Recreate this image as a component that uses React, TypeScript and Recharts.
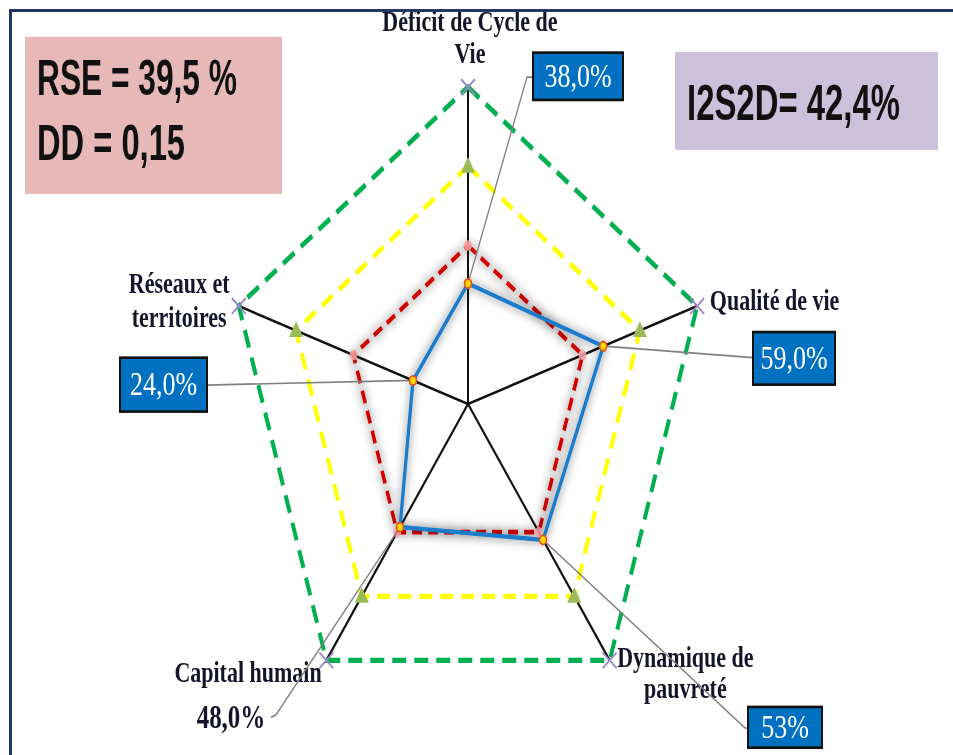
import React from "react";
import { RadarChart, Radar, PolarGrid, PolarAngleAxis, PolarRadiusAxis } from "recharts";

// the source picture is stretched vertically, so the whole drawing is scaled in y
const K = 1.315;
const W = 953;
const H = 755;
const INNER_H = Math.round(H / K);

const AXES = ["Déficit de Cycle de Vie", "Qualité de vie", "Dynamique de pauvreté", "Capital humain", "Réseaux et territoires"];
const AXIS_LINES = [["Déficit de Cycle de", "Vie"], ["Qualité de vie"], ["Dynamique de", "pauvreté"], ["Capital humain"], ["Réseaux et", "territoires"]];
const GREEN = [100, 100, 100, 100, 100];
const YELLOW = [75, 75, 75, 75, 75];
const RED = [50, 50, 50, 50, 50];
const BLUE = [38, 59, 53, 48, 24];
const BLUE_LABELS = ["38,0%", "59,0%", "53%", "48,0%", "24,0%"];

const data = AXES.map((axis, i) => ({
  axis,
  green: GREEN[i],
  yellow: YELLOW[i],
  red: RED[i],
  blue: BLUE[i],
}));

// label placement around the outer vertices
const TICK_POS = [
  { dx: 2, dy: [-34.6, -10.3], anchor: "middle" },
  { dx: 5, dy: [5.5], anchor: "start" },
  { dx: 71, dy: [-1.5, 22], anchor: "middle" },
  { dx: 0, dy: [10], anchor: "end" },
  { dx: -52, dy: [-7.4, 18.5], anchor: "middle" },
];

// callouts for the blue series (box or plain text, plus leader elbow)
const CALLOUTS: any[] = [
  { box: { x: 533, y: 40, w: 90, h: 36 }, path: [[527, 58.6], [533, 58.6]] },
  { box: { x: 753, y: 252.5, w: 82, h: 40 }, path: [[753, 272]] },
  { box: { x: 748, y: 537.6, w: 74, h: 31 }, path: [[745, 553.6], [748, 553.6]] },
  { text: { x: 231, y: 553.6 }, path: [[276, 543.5], [271, 545.5]] },
  { box: { x: 120, y: 272, w: 87, h: 41 }, path: [[207, 292.8]] },
];

const SERIF = "'Liberation Serif', 'Times New Roman', serif";
const SANS = "'Liberation Sans', Arial, sans-serif";

function AxisTick(props: any) {
  const { x, y } = props;
  const i = props.payload?.index ?? props.index;
  const pos = TICK_POS[i];
  return (
    <text textAnchor={pos.anchor} fontFamily={SERIF} fontWeight="bold" fontSize={22} fill="#14142a">
      {AXIS_LINES[i].map((line, k) => (
        <tspan key={k} x={x + pos.dx} y={y + pos.dy[k]}>
          {line}
        </tspan>
      ))}
    </text>
  );
}

function GreenDot(props: any) {
  const { cx, cy } = props;
  return (
    <g>
      <line x1={cx - 7} y1={cy - 6} x2={cx + 7} y2={cy + 6} stroke="#9a86c8" strokeWidth={1.6} />
      <line x1={cx - 7} y1={cy + 6} x2={cx + 7} y2={cy - 6} stroke="#9a86c8" strokeWidth={1.6} />
    </g>
  );
}

function YellowDot(props: any) {
  const { cx, cy } = props;
  return <polygon points={`${cx},${cy - 7} ${cx + 7},${cy + 5} ${cx - 7},${cy + 5}`} fill="#9bbb59" />;
}

function RedDot(props: any) {
  const { cx, cy } = props;
  return <circle cx={cx} cy={cy} r={4} fill="#f3a3a3" opacity={0.85} />;
}

function BlueDot(props: any) {
  const { cx, cy, index } = props;
  const c = CALLOUTS[index];
  const pts = [[cx, cy], ...c.path].map((p: number[]) => p.join(",")).join(" ");
  return (
    <g>
      <polyline points={pts} fill="none" stroke="#808080" strokeWidth={1.3} />
      {c.box && (
        <g>
          <rect x={c.box.x} y={c.box.y} width={c.box.w} height={c.box.h} fill="#0070c0" stroke="#111" strokeWidth={2} />
          <text
            x={c.box.x + c.box.w / 2}
            y={c.box.y + c.box.h / 2 + 8}
            textAnchor="middle"
            fontFamily={SERIF}
            fontSize={26}
            fill="#fff"
          >
            {BLUE_LABELS[index]}
          </text>
        </g>
      )}
      {c.text && (
        <text x={c.text.x} y={c.text.y} textAnchor="middle" fontFamily={SERIF} fontWeight="bold" fontSize={25} fill="#14142a">
          {BLUE_LABELS[index]}
        </text>
      )}
      <circle cx={cx} cy={cy} r={3.5} fill="#ffd800" stroke="#e0531a" strokeWidth={1.5} />
    </g>
  );
}

export default function App() {
  return (
    <div style={{ position: "absolute", left: 0, top: 0, width: W, height: H, overflow: "hidden", background: "#fff" }}>
      <style>{`.glow path { filter: url(#soft); }`}</style>
      <div
        style={{
          position: "absolute",
          left: 0,
          top: 0,
          width: W,
          height: INNER_H,
          transform: `scaleY(${K})`,
          transformOrigin: "0 0",
        }}
      >
        <svg width={W} height={INNER_H} style={{ position: "absolute", left: 0, top: 0 }}>
          <defs>
            <filter id="soft" x="-20%" y="-20%" width="140%" height="140%">
              <feMorphology in="SourceAlpha" operator="dilate" radius="1.5" result="d" />
              <feGaussianBlur in="d" stdDeviation="3.5" result="b" />
              <feFlood floodColor="#000" floodOpacity="0.25" />
              <feComposite in2="b" operator="in" result="s" />
              <feMerge>
                <feMergeNode in="s" />
                <feMergeNode in="SourceGraphic" />
              </feMerge>
            </filter>
          </defs>
          <rect x={25} y={28} width={257} height={119.5} fill="#e6b9b8" />
          <text x={37} y={72.2} fontFamily={SANS} fontWeight="bold" fontSize={38} fill="#111" textLength={200} lengthAdjust="spacingAndGlyphs">
            RSE = 39,5 %
          </text>
          <text x={37} y={121.7} fontFamily={SANS} fontWeight="bold" fontSize={38} fill="#111" textLength={148} lengthAdjust="spacingAndGlyphs">
            DD = 0,15
          </text>
          <rect x={675} y={39.5} width={263} height={74.5} fill="#ccc1da" />
          <text x={687} y={91.3} fontFamily={SANS} fontWeight="bold" fontSize={38} fill="#111" textLength={213} lengthAdjust="spacingAndGlyphs">
            I2S2D= 42,4%
          </text>
        </svg>
        <div style={{ position: "absolute", left: 0, top: 0 }}>
          <RadarChart
            width={W}
            height={INNER_H}
            cx={468}
            cy={307.2}
            outerRadius={241}
            data={data}
            margin={{ top: 0, right: 0, bottom: 0, left: 0 }}
          >
            <PolarGrid polarRadius={[]} stroke="#111" strokeWidth={2} />
            <PolarAngleAxis dataKey="axis" tick={<AxisTick />} tickLine={false} axisLine={false} />
            <PolarRadiusAxis domain={[0, 100]} tick={false} axisLine={false} />
            <Radar dataKey="green" stroke="#00b050" strokeWidth={4} strokeDasharray="14 8" fill="none" dot={<GreenDot />} isAnimationActive={false} />
            <Radar dataKey="yellow" stroke="#ffff00" strokeWidth={4} strokeDasharray="13 8" fill="none" dot={<YellowDot />} isAnimationActive={false} />
            <Radar className="glow" dataKey="red" stroke="#d00000" strokeWidth={3.5} strokeDasharray="10 6" fill="none" dot={<RedDot />} isAnimationActive={false} />
            <Radar className="glow" dataKey="blue" stroke="#1b7ccc" strokeWidth={3.3} fill="none" dot={<BlueDot />} isAnimationActive={false} />
          </RadarChart>
        </div>
      </div>
      <div
        style={{
          position: "absolute",
          left: 9,
          top: 9,
          right: 0,
          bottom: 0,
          borderTop: "3px solid #1f3864",
          borderLeft: "3px solid #1f3864",
        }}
      />
    </div>
  );
}
